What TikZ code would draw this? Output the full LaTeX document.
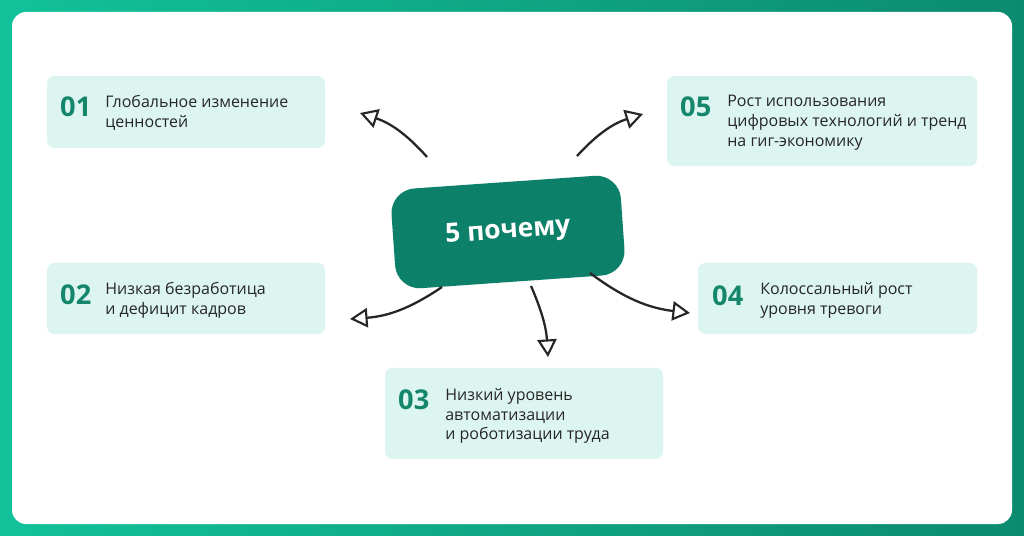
\documentclass[tikz,border=0pt]{standalone}
\usepackage{fontspec}
\setmainfont{Open Sans}
\usetikzlibrary{arrows.meta}
\definecolor{frameA}{HTML}{12C29A}
\definecolor{frameB}{HTML}{0C8A6E}
\definecolor{boxfill}{HTML}{DDF5F0}
\definecolor{corefill}{HTML}{0C8069}
\definecolor{numcol}{HTML}{14866C}
\tikzset{
  card/.style={fill=boxfill, rounded corners=4pt},
  num/.style={font=\bfseries\fontsize{15.5}{16}\selectfont, text=numcol, anchor=west},
  label/.style={font=\fontsize{9.1}{11.2}\selectfont, align=left, anchor=north west, inner sep=0pt, text=black!85},
  why/.style={-{Triangle[open, length=10pt, width=11pt, line width=1.2pt]}, line width=1.3pt, black!85}
}
\begin{document}
\begin{tikzpicture}[x=0.02cm, y=-0.02cm]
\useasboundingbox (0,0) rectangle (1024,536);
\shade[left color=frameA, right color=frameB] (0,0) rectangle (1024,536);
\fill[white, rounded corners=8pt] (12,12) rectangle (1012,524);
% cards
\fill[card] (47,76) rectangle (325,148);
\fill[card] (667,76) rectangle (977,166);
\fill[card] (47,263) rectangle (325,334);
\fill[card] (698,263) rectangle (977,334);
\fill[card] (385,368) rectangle (663,459);
\node[num] (n1) at (54,107) {01};
\node[label] (t1) at (105,95) {Глобальное изменение\\ценностей};
\node[num] (n5) at (674,107) {05};
\node[label] (t5) at (727,95) {Рост использования\\цифровых технологий и тренд\\на гиг-экономику};
\node[num] (n2) at (54,295) {02};
\node[label] (t2) at (105,282) {Низкая безработица\\и дефицит кадров};
\node[num] (n4) at (706,296) {04};
\node[label] (t4) at (760,282) {Колоссальный рост\\уровня тревоги};
\node[num] (n3) at (392,400) {03};
\node[label] (t3) at (445,388) {Низкий уровень\\автоматизации\\и роботизации труда};
% centre
\node[fill=corefill, rounded corners=14pt, rotate=4, minimum width=4.6cm, minimum height=2.0cm,
  text=white, font=\bfseries\fontsize{15}{15}\selectfont] (core) at (508,232) {5 почему};
% arrows
\coordinate (a1) at (360,113);
\coordinate (a5) at (643,114);
\coordinate (a2) at (350,319);
\coordinate (a3) at (548,357);
\coordinate (a4) at (690,313);
\draw[why] (427,157) to[bend right=15] (a1);
\draw[why] (577,156) to[bend left=15] (a5);
\draw[why] (442,287) to[bend left=15] (a2);
\draw[why] (531,286) to[bend left=10] (a3);
\draw[why] (590,273) to[bend right=15] (a4);
\end{tikzpicture}
\end{document}
